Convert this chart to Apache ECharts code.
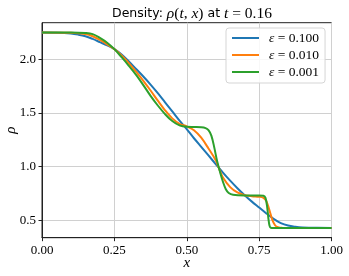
<!DOCTYPE html>
<html><head><meta charset="utf-8">
<script src="https://cdn.jsdelivr.net/npm/echarts@6/dist/echarts.min.js"></script>
<style>html,body{margin:0;padding:0;background:#fff}#c{width:349px;height:276px}</style>
</head><body><div id="c"></div>
<script>
const xTicks = [0, 0.25, 0.5, 0.75, 1.0];
const yTicks = [0.5, 1.0, 1.5, 2.0];
const seriesNames = ['ε = 0.100', 'ε = 0.010', 'ε = 0.001'];

const xBlue = [0,0.05,0.10,0.125,0.15,0.175,0.20,0.225,0.25,0.275,0.30,0.325,0.35,0.375,0.40,0.425,0.45,0.475,0.50,0.525,0.55,0.575,0.60,0.625,0.65,0.675,0.70,0.725,0.75,0.775,0.80,0.825,0.85,0.875,0.90,0.95,1.0];
const rhoBlue = [2.25,2.248,2.24,2.23,2.215,2.19,2.16,2.13,2.095,2.045,1.98,1.91,1.84,1.765,1.685,1.60,1.515,1.43,1.35,1.265,1.185,1.105,1.025,0.945,0.87,0.80,0.735,0.675,0.62,0.565,0.515,0.475,0.452,0.441,0.435,0.431,0.43];

const xOrange = [0,0.10,0.15,0.175,0.20,0.225,0.25,0.275,0.30,0.325,0.35,0.375,0.40,0.425,0.45,0.475,0.50,0.525,0.55,0.575,0.60,0.615,0.625,0.65,0.675,0.70,0.725,0.75,0.765,0.775,0.785,0.795,0.805,0.815,0.83,1.0];
const rhoOrange = [2.25,2.247,2.235,2.215,2.18,2.14,2.095,2.035,1.965,1.885,1.80,1.71,1.615,1.525,1.45,1.40,1.375,1.34,1.27,1.17,1.06,0.96,0.90,0.81,0.76,0.735,0.725,0.72,0.71,0.68,0.60,0.51,0.455,0.437,0.431,0.43];

const xGreen = [0,0.10,0.15,0.175,0.20,0.225,0.25,0.275,0.30,0.325,0.35,0.375,0.40,0.425,0.45,0.475,0.50,0.525,0.55,0.565,0.575,0.585,0.595,0.605,0.615,0.625,0.635,0.645,0.66,0.70,0.75,0.765,0.772,0.778,0.782,0.786,0.79,0.80,1.0];
const rhoGreen = [2.25,2.25,2.245,2.235,2.20,2.155,2.095,2.02,1.94,1.855,1.76,1.66,1.57,1.49,1.425,1.385,1.372,1.37,1.368,1.36,1.34,1.29,1.18,1.05,0.95,0.86,0.79,0.755,0.738,0.733,0.733,0.73,0.71,0.62,0.52,0.45,0.432,0.43,0.43];

const colors = ['#1f77b4', '#ff7f0e', '#2ca02c'];
const pairs = (xs, ys) => xs.map((x, i) => [x, ys[i]]);
const serif = 'Liberation Serif';

const chart = echarts.init(document.getElementById('c'), null, {renderer: 'canvas'});
chart.setOption({
  animation: false,
  color: colors,
  title: {
    text: '{a|Density: }{m|ρ}{n|(}{m|t}{n|, }{m|x}{n|)}{a| at }{m|t}{n| = 0.16}',
    left: 187, top: 1, textAlign: 'center',
    textStyle: {
      fontWeight: 'normal',
      rich: {
        a: {fontFamily: 'DejaVu Sans', fontSize: 12.5, fontWeight: 'normal', color: '#000'},
        m: {fontFamily: serif, fontStyle: 'italic', fontWeight: 'normal', fontSize: 15.5, color: '#000'},
        n: {fontFamily: serif, fontWeight: 'normal', fontSize: 15.5, color: '#000'}
      }
    }
  },
  grid: {left: 42, right: 17.5, top: 22.7, bottom: 38.3, outerBoundsMode: 'none', containLabel: false, show: true, borderColor: '#222', borderWidth: 1, backgroundColor: 'transparent'},
  legend: {
    orient: 'vertical', left: 226, top: 28,
    icon: 'rect', itemWidth: 27, itemHeight: 2, itemGap: 3,
    padding: [3, 6, 4, 6],
    backgroundColor: 'rgba(255,255,255,0.85)',
    borderColor: '#d5d5d5', borderWidth: 1, borderRadius: 3,
    formatter: name => '{i|ε}{n|' + name.slice(1) + '}',
    textStyle: {fontFamily: serif, fontSize: 13.5, color: '#000', padding: [0, 0, 0, 5],
      rich: {i: {fontFamily: serif, fontStyle: 'italic', fontSize: 13.5}, n: {fontFamily: serif, fontSize: 13.5}}},
    data: seriesNames
  },
  xAxis: {
    type: 'value', min: 0, max: 1, interval: 0.25,
    name: 'x', nameLocation: 'middle', nameGap: 18, nameMoveOverlap: false,
    nameTextStyle: {fontFamily: serif, fontStyle: 'italic', fontSize: 15, color: '#000'},
    axisLine: {show: true, lineStyle: {color: '#222', width: 1}},
    axisTick: {show: true, length: 3.5, lineStyle: {color: '#222'}},
    axisLabel: {fontFamily: serif, fontSize: 13, color: '#000', margin: 6, formatter: v => v.toFixed(2)},
    splitLine: {show: true, lineStyle: {color: '#d0d0d0', width: 1}}
  },
  yAxis: {
    type: 'value', min: 0.339, max: 2.341,
    name: 'ρ', nameLocation: 'middle', nameGap: 23, nameRotate: 90, nameMoveOverlap: false,
    nameTextStyle: {fontFamily: serif, fontStyle: 'italic', fontSize: 15, color: '#000'},
    axisLine: {show: true, lineStyle: {color: '#222', width: 1}},
    axisTick: {show: true, length: 3.5, lineStyle: {color: '#222'}, customValues: yTicks},
    axisLabel: {fontFamily: serif, fontSize: 13, color: '#000', margin: 6, customValues: yTicks, formatter: v => v.toFixed(1)},
    splitLine: {show: true, lineStyle: {color: '#d0d0d0', width: 1}}
  },
  series: [
    {name: seriesNames[0], type: 'line', data: pairs(xBlue, rhoBlue), symbol: 'none', smooth: 0.35, lineStyle: {width: 2}},
    {name: seriesNames[1], type: 'line', data: pairs(xOrange, rhoOrange), symbol: 'none', smooth: 0.35, lineStyle: {width: 2}},
    {name: seriesNames[2], type: 'line', data: pairs(xGreen, rhoGreen), symbol: 'none', smooth: 0.35, lineStyle: {width: 2}}
  ]
});
</script></body></html>
